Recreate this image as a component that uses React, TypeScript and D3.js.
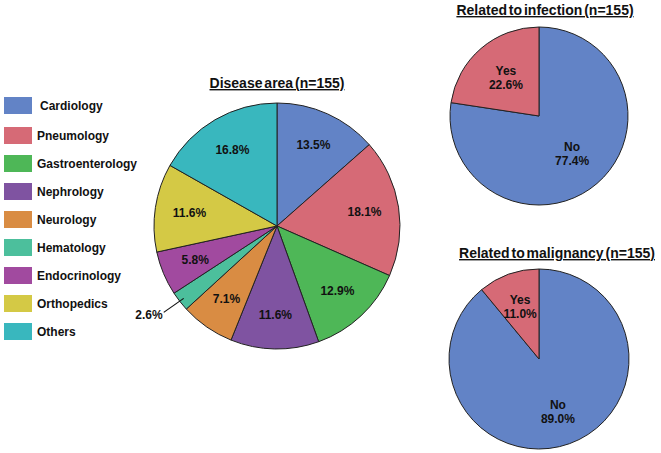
import React from "react";
import * as d3 from "d3";

const areaCategories = ["Cardiology", "Pneumology", "Gastroenterology", "Nephrology", "Neurology", "Hematology", "Endocrinology", "Orthopedics", "Others"];
const areaValues = [13.5, 18.1, 12.9, 11.6, 7.1, 2.6, 5.8, 11.6, 16.8];
const areaColors = ["#6283c6", "#d66a76", "#4eb757", "#7f53a1", "#d98c43", "#4cbf9c", "#a14a9f", "#d4c945", "#39b7be"];

const binaryCategories = ["No", "Yes"];
const infectionValues = [77.4, 22.6];
const malignancyValues = [89.0, 11.0];
const binaryColors = ["#6283c6", "#d66a76"];

const FONT = "'Liberation Sans', Arial, sans-serif";

function fmt(v: number) {
  return v.toFixed(1) + "%";
}

function Pie({ cx, cy, r, values, colors, labelR, render }: any) {
  const pie = d3.pie<number>().sort(null).value((d) => d);
  const arcs = pie(values);
  const arc = d3.arc<any>().innerRadius(0).outerRadius(r);
  const labelArc = d3.arc<any>().innerRadius(labelR).outerRadius(labelR);
  return (
    <g transform={`translate(${cx},${cy})`}>
      {arcs.map((a, i) => (
        <path key={i} d={arc(a) as string} fill={colors[i]} stroke="#222" strokeWidth={1} />
      ))}
      {arcs.map((a, i) => render(a, i, labelArc.centroid(a), r))}
    </g>
  );
}

export default function App() {
  const mainR = 123;
  return (
    <svg width={661} height={453} style={{ position: "absolute", left: 0, top: 0, background: "#fff" }} fontFamily={FONT}>
      <rect width={661} height={453} fill="#fff" />
      {/* Legend */}
      {areaCategories.map((c, i) => {
        const y = i === 0 ? 97 : 127 + (i - 1) * 28;
        return (
          <g key={c}>
            <rect x={4} y={y} width={28} height={17} fill={areaColors[i]} />
            <text x={i === 0 ? 40 : 37} y={y + 13} fontSize={12} fontWeight="bold" fill="#111">{c}</text>
          </g>
        );
      })}

      {/* Main pie */}
      <text x={277} y={88} textAnchor="middle" fontSize={14} fontWeight="bold" textDecoration="underline" wordSpacing={-2} fill="#111">Disease area (n=155)</text>
      <Pie
        cx={277}
        cy={226}
        r={mainR}
        values={areaValues}
        colors={areaColors}
        labelR={mainR * 0.72}
        render={(a: any, i: number, c: [number, number], r: number) => {
          if (areaValues[i] < 4) {
            const mid = (a.startAngle + a.endAngle) / 2;
            const sx = Math.sin(mid) * r * 0.96;
            const sy = -Math.cos(mid) * r * 0.96;
            const ex = sx - 20;
            const ey = sy + 14;
            return (
              <g key={"l" + i}>
                <line x1={sx} y1={sy} x2={ex} y2={ey} stroke="#111" strokeWidth={1.2} />
                <text x={ex - 1} y={ey + 7} textAnchor="end" fontSize={12} fontWeight="bold" fill="#111">{fmt(areaValues[i])}</text>
              </g>
            );
          }
          return (
            <text key={"l" + i} x={c[0]} y={c[1] + 4} textAnchor="middle" fontSize={12} fontWeight="bold" fill="#111">{fmt(areaValues[i])}</text>
          );
        }}
      />

      {/* Infection pie */}
      <text x={545} y={15} textAnchor="middle" fontSize={14} fontWeight="bold" textDecoration="underline" wordSpacing={-2} fill="#111">Related to infection (n=155)</text>
      <Pie
        cx={539}
        cy={116}
        r={89}
        values={infectionValues}
        colors={binaryColors}
        labelR={89 * 0.57}
        render={(a: any, i: number, c: [number, number]) => (
          <text key={"l" + i} x={c[0]} y={c[1] - 3} textAnchor="middle" fontSize={12} fontWeight="bold" fill="#111">
            <tspan x={c[0]}>{binaryCategories[i]}</tspan>
            <tspan x={c[0]} dy={14}>{fmt(infectionValues[i])}</tspan>
          </text>
        )}
      />

      {/* Malignancy pie */}
      <text x={557} y={258} textAnchor="middle" fontSize={14} fontWeight="bold" textDecoration="underline" wordSpacing={-2} fill="#111">Related to malignancy (n=155)</text>
      <Pie
        cx={539}
        cy={359}
        r={90}
        values={malignancyValues}
        colors={binaryColors}
        labelR={90 * 0.62}
        render={(a: any, i: number, c: [number, number]) => (
          <text key={"l" + i} x={c[0]} y={c[1] - 3} textAnchor="middle" fontSize={12} fontWeight="bold" fill="#111">
            <tspan x={c[0]}>{binaryCategories[i]}</tspan>
            <tspan x={c[0]} dy={14}>{fmt(malignancyValues[i])}</tspan>
          </text>
        )}
      />
    </svg>
  );
}
